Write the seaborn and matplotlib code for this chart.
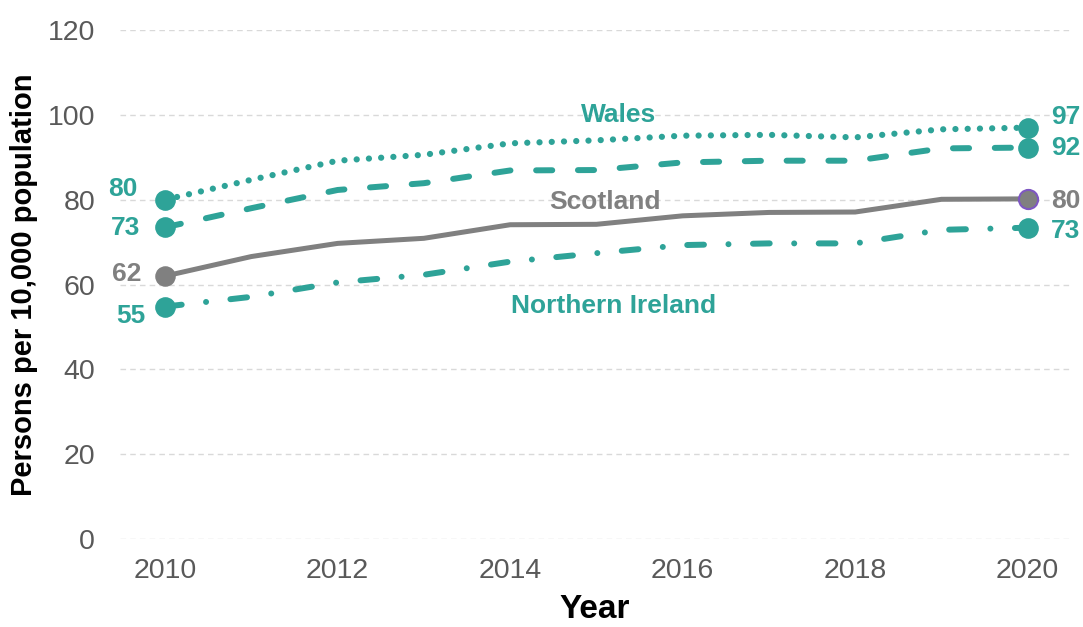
import matplotlib
matplotlib.use("Agg")
import matplotlib.pyplot as plt
import seaborn as sns
import numpy as np
import pandas as pd

years = [2010, 2011, 2012, 2013, 2014, 2015, 2016, 2017, 2018, 2019, 2020]
wales = [80, 84.7, 89.2, 90.6, 93.3, 94.0, 95.1, 95.3, 94.7, 96.6, 97]
dashed_series = [73.5, 78, 82.3, 83.9, 86.9, 87.0, 88.8, 89.2, 89.2, 92.1, 92.3]
scotland = [62, 66.6, 69.7, 70.9, 74.1, 74.2, 76.2, 77.0, 77.1, 80.1, 80.2]
northern_ireland = [54.8, 57.1, 60.5, 62.3, 65.4, 67.4, 69.3, 69.7, 69.7, 72.9, 73.4]

start_labels = ["80", "73", "62", "55"]
end_labels = ["97", "92", "80", "73"]
series_names = ["Wales", "Scotland", "Northern Ireland"]
yticks = [0, 20, 40, 60, 80, 100, 120]
xticks = [2010, 2012, 2014, 2016, 2018, 2020]

TEAL = "#2ea398"
GREY = "#808080"

sns.set_theme(style="white")
plt.rcParams['font.family'] = ['Liberation Sans', 'DejaVu Sans']

fig = plt.figure(figsize=(10.83, 6.27), dpi=100)
ax = fig.add_axes([0.111, 0.1404, 0.877, 0.8116])

specs = [
    (wales, TEAL, 4.5, (0, (0.01, 1.95))),
    (dashed_series, TEAL, 4.3, (0, (2.7, 4.3))),
    (scotland, GREY, 3.6, "-"),
    (northern_ireland, TEAL, 4.3, (0, (2.8, 4.1, 0.01, 4.1))),
]
for vals, col, lw, ls in specs:
    sns.lineplot(x=years, y=vals, ax=ax, color=col, linewidth=lw, linestyle=ls,
                 dash_capstyle="round", solid_capstyle="butt", zorder=3)

# end markers
for vals, col, lw, ls in specs:
    if vals is scotland:
        ax.scatter([years[0]], [vals[0]], s=190, color=col, edgecolor=col, zorder=4)
        ax.scatter([years[-1]], [vals[-1]], s=190, color=col, edgecolor="#7e57c2",
                   linewidth=1.5, zorder=4)
    else:
        sns.scatterplot(x=[years[0], years[-1]], y=[vals[0], vals[-1]], ax=ax,
                        s=190, color=col, edgecolor=col, zorder=4)

# start / end value labels
start_x = [2009.676, 2009.71, 2009.73, 2009.77]
start_y = [82.5, 73.4, 62.5, 52.6]
end_y = [99.4, 92.1, 79.7, 72.7]
colors = [TEAL, TEAL, GREY, TEAL]
for lab, xx, yy, c in zip(start_labels, start_x, start_y, colors):
    ax.text(xx, yy, lab, ha="right", va="center", fontsize=19,
            fontweight="bold", color=c)
for lab, yy, c in zip(end_labels, end_y, colors):
    ax.text(2020.27, yy, lab, ha="left", va="center", fontsize=19,
            fontweight="bold", color=c)

ax.text(2015.26, 100.0, series_names[0], ha="center", va="center", fontsize=19,
        fontweight="bold", color=TEAL)
ax.text(2015.1, 79.4, series_names[1], ha="center", va="center", fontsize=19,
        fontweight="bold", color=GREY)
ax.text(2015.2, 54.9, series_names[2], ha="center", va="center", fontsize=19,
        fontweight="bold", color=TEAL)

ax.set_xlim(2009.48, 2020.49)
ax.set_ylim(0, 120)
ax.set_yticks(yticks)
ax.set_xticks(xticks)
ax.tick_params(axis="both", labelsize=20.5, colors="#595959", length=0)
ax.tick_params(axis="y", pad=18)
ax.tick_params(axis="x", pad=14)
ax.yaxis.grid(True, color="#d9d9d9", linestyle=(0, (4, 3)), linewidth=1)
ax.xaxis.grid(False)
for s in ax.spines.values():
    s.set_visible(False)

ax.set_xlabel("Year", fontsize=24, fontweight="bold", color="black")
ax.xaxis.set_label_coords(0.5, -0.108)
ax.set_ylabel("Persons per 10,000 population", fontsize=21, fontweight="bold",
              color="black")
ax.yaxis.set_label_coords(-0.0863, 0.5)

fig.savefig("out.png", dpi=100)
